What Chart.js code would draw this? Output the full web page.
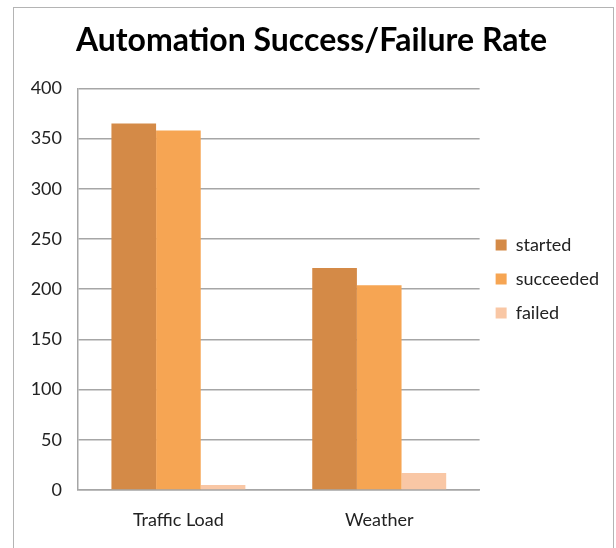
<!DOCTYPE html>
<html>
<head>
<meta charset="utf-8">
<script src="https://cdn.jsdelivr.net/npm/chart.js@4/dist/chart.umd.min.js"></script>
<style>
  html, body { margin: 0; padding: 0; background: #fff; }
  #wrap { position: relative; width: 616px; height: 548px; }
  #frame {
    position: absolute; left: 13px; top: 7px; width: 601px; height: 560px;
    border: 1.5px solid #b4b4b4; box-sizing: border-box; pointer-events: none;
  }
</style>
</head>
<body>
<div id="wrap">
  <canvas id="chart" width="616" height="548"></canvas>
  <div id="frame"></div>
</div>
<script>
"use strict";

// ── Data ──────────────────────────────────────────────────────────────────
const categories = ["Traffic Load", "Weather"];
const started    = [365, 221];
const succeeded  = [358, 204];
const failed     = [5, 17];
const yTicks     = [0, 50, 100, 150, 200, 250, 300, 350, 400];

const FONT = "Lato, 'Open Sans', sans-serif";

// ── Chart ─────────────────────────────────────────────────────────────────
new Chart(document.getElementById("chart"), {
  type: "bar",
  data: {
    labels: categories,
    datasets: [
      { label: "started",   data: started,   backgroundColor: "#d48a47" },
      { label: "succeeded", data: succeeded, backgroundColor: "#f6a553" },
      { label: "failed",    data: failed,    backgroundColor: "#f9c7a5" },
    ],
  },
  options: {
    responsive: false,
    animation: false,
    categoryPercentage: 0.667,
    barPercentage: 1.0,
    layout: { padding: { left: 14, right: 7, top: 8, bottom: 20 } },
    plugins: {
      title: {
        display: true,
        text: "Automation Success/Failure Rate",
        color: "#000",
        font: { family: FONT, size: 32, weight: "bold" },
        padding: { top: 13, bottom: 29 },
      },
      legend: {
        position: "right",
        // empty title only pushes the items down a bit
        title: { display: true, text: "", font: { size: 10 }, padding: 5 },
        labels: {
          color: "#222",
          font: { family: FONT, size: 18 },
          boxWidth: 11,
          boxHeight: 11,
          padding: 16,
        },
      },
      tooltip: { enabled: false },
    },
    scales: {
      x: {
        afterFit: (scale) => { scale.height = 38; },
        grid: { display: false, drawTicks: false },
        border: { color: "#a6a6a6", width: 1.5 },
        ticks: { color: "#222", font: { family: FONT, size: 18 }, padding: 19 },
      },
      y: {
        min: 0,
        max: 400,
        afterBuildTicks: (scale) => { scale.ticks = yTicks.map(v => ({ value: v })); },
        afterFit: (scale) => { scale.width = 64; },
        grid: { color: "#a6a6a6", lineWidth: 1.5, drawTicks: false },
        border: { color: "#a6a6a6", width: 1.5 },
        ticks: { color: "#222", font: { family: FONT, size: 18 }, padding: 16 },
      },
    },
  },
});
</script>
</body>
</html>
